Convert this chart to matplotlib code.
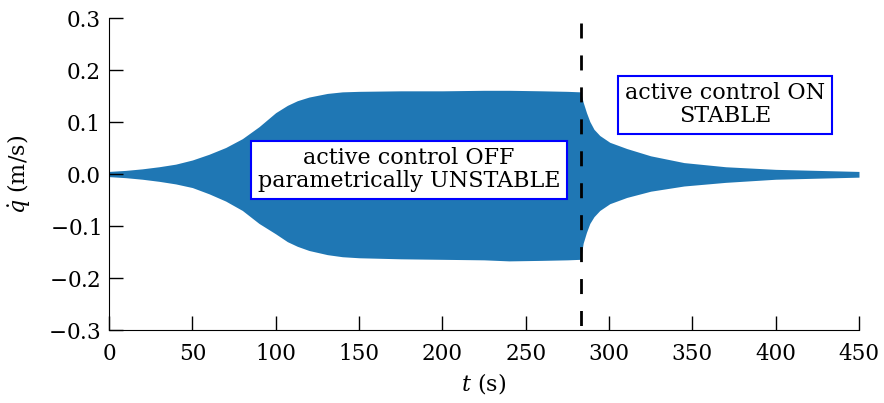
import matplotlib
matplotlib.use("Agg")
import matplotlib.pyplot as plt

# envelope of the oscillating velocity signal
t_env = [0, 10, 20, 30, 40, 50, 60, 70, 80, 90, 100, 107, 113, 120, 131,
         140, 150, 175, 200, 225, 240, 260, 275, 283, 284.5, 286.5, 288.5,
         291, 294.5, 300.5, 310.7, 325, 345, 370, 400, 450]
upper = [0.005, 0.007, 0.010, 0.014, 0.019, 0.027, 0.038, 0.051, 0.068,
         0.091, 0.118, 0.132, 0.141, 0.148, 0.155, 0.158, 0.159, 0.160,
         0.160, 0.161, 0.161, 0.160, 0.159, 0.158, 0.138, 0.118, 0.101,
         0.086, 0.074, 0.061, 0.049, 0.035, 0.022, 0.014, 0.009, 0.005]
lower = [-0.005, -0.007, -0.010, -0.014, -0.019, -0.026, -0.038, -0.052,
         -0.070, -0.095, -0.115, -0.130, -0.139, -0.147, -0.155, -0.159,
         -0.161, -0.163, -0.164, -0.165, -0.167, -0.166, -0.165, -0.164,
         -0.133, -0.112, -0.095, -0.082, -0.070, -0.057, -0.045, -0.033,
         -0.023, -0.016, -0.010, -0.006]
t_switch = 283
xticks = [0, 50, 100, 150, 200, 250, 300, 350, 400, 450]
yticks = [-0.3, -0.2, -0.1, 0.0, 0.1, 0.2, 0.3]
ytick_labels = ['$-0.3$', '$-0.2$', '$-0.1$', '0.0', '0.1', '0.2', '0.3']

plt.rcParams['font.family'] = 'DejaVu Serif'
plt.rcParams['mathtext.fontset'] = 'dejavuserif'

fig = plt.figure(figsize=(8.84, 4.03), dpi=100)
ax = fig.add_axes([0.1233, 0.181, 0.8484, 0.7743])
ax.set_xlim(0, 450)
ax.set_ylim(-0.3, 0.3)

ax.fill_between(t_env, lower, upper, color='#1f77b4', linewidth=0)
# dashed switch-on line, drawn top-down so the dash phase matches
ax.plot([t_switch, t_switch], ax.get_ylim()[::-1], color='black',
        linewidth=2, linestyle=(9.7, (5.4, 6.1)))

ax.text(180, 0.008, "active control OFF\nparametrically UNSTABLE",
        ha='center', va='center', fontsize=16, linespacing=1.05,
        bbox=dict(facecolor='white', edgecolor='blue', linewidth=1.5, pad=5))
ax.text(369.5, 0.133, "active control ON\nSTABLE",
        ha='center', va='center', fontsize=16, linespacing=1.05,
        bbox=dict(facecolor='white', edgecolor='blue', linewidth=1.5, pad=5))

ax.set_xticks(xticks)
ax.set_yticks(yticks)
ax.set_yticklabels(ytick_labels)
ax.spines['top'].set_visible(False)
ax.spines['right'].set_visible(False)
ax.tick_params(direction='in', length=10, width=1, labelsize=15.5)
ax.tick_params(axis='x', pad=9.5)
ax.tick_params(axis='y', pad=6)
ax.set_xlabel('$t$ (s)', fontsize=16)
ax.set_ylabel(r'$\dot{q}$ (m/s)', fontsize=16)
ax.xaxis.set_label_coords(0.5, -0.131)
ax.yaxis.set_label_coords(-0.103, 0.5)

fig.savefig('out.png', dpi=100)
